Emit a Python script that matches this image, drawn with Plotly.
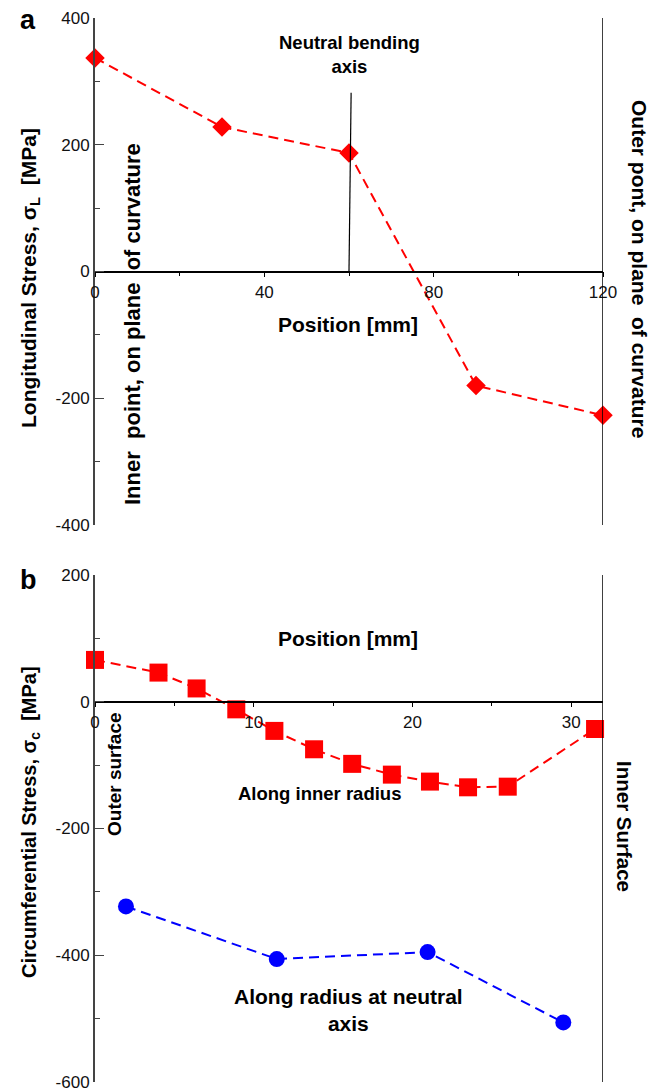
import plotly.graph_objects as go

# ---- data: panel a (longitudinal stress) ----
pos_a = [0, 30, 60, 90, 120]
stress_long = [337, 228, 187, -180, -227]
neutral_x = [60.5, 60]
neutral_y = [282, 0]
ytick_vals_a = [-400, -200, 0, 200, 400]
ytick_text_a = ["-400", "-200", "0", "200", "400"]
xtick_vals_a = [0, 40, 80, 120]
xtick_text_a = ["0", "40", "80", "120"]

# ---- data: panel b (circumferential stress) ----
pos_inner = [0, 4, 6.4, 8.9, 11.3, 13.8, 16.2, 18.7, 21.1, 23.5, 26.0, 31.5]
stress_inner = [66, 46, 21, -12, -46, -75, -98, -115, -126, -135, -134, -43]
pos_neutral = [1.95, 11.45, 20.95, 29.5]
stress_neutral = [-323, -406, -395, -506]
ytick_vals_b = [-600, -400, -200, 0, 200]
ytick_text_b = ["-600", "-400", "-200", "0", "200"]
xtick_vals_b = [0, 10, 20, 30]
xtick_text_b = ["0", "10", "20", "30"]

W, H = 661, 1089
FONT = "Liberation Sans, Arial, sans-serif"


def fx(px):
    return px / W


def fy(py):
    return 1 - py / H


xa_dom = [fx(95), fx(603)]
ya_dom = [fy(525), fy(18)]
yb_dom = [fy(1082), fy(575)]

fig = go.Figure()

fig.add_trace(go.Scatter(
    x=pos_a, y=stress_long, mode="lines+markers", xaxis="x", yaxis="y",
    line=dict(color="#ff0000", width=2, dash="10px,6px"),
    marker=dict(symbol="diamond", size=15, color="#ff0000"),
    cliponaxis=False, showlegend=False))
fig.add_trace(go.Scatter(
    x=neutral_x, y=neutral_y, mode="lines", xaxis="x", yaxis="y",
    line=dict(color="black", width=1.2), showlegend=False, cliponaxis=False))

fig.add_trace(go.Scatter(
    x=pos_inner, y=stress_inner, mode="lines+markers", xaxis="x2", yaxis="y2",
    line=dict(color="#ff0000", width=2, dash="10px,6px"),
    marker=dict(symbol="square", size=18, color="#ff0000"),
    cliponaxis=False, showlegend=False))
fig.add_trace(go.Scatter(
    x=pos_neutral, y=stress_neutral, mode="lines+markers", xaxis="x2", yaxis="y2",
    line=dict(color="#0000ff", width=2, dash="10px,6px"),
    marker=dict(symbol="circle", size=16, color="#0000ff"),
    cliponaxis=False, showlegend=False))

tickfont = dict(family=FONT, size=17, color="#111")

xa_common = dict(showgrid=False, zeroline=False, showline=True, linecolor="black",
                 linewidth=1.5, ticks="outside", ticklen=5, tickcolor="black",
                 tickwidth=1.2, tickfont=tickfont, anchor="free", automargin=False,
                 tickmode="array", ticklabeloverflow="allow")
ya_common = dict(showgrid=False, zeroline=False, showline=True, linecolor="#444",
                 linewidth=2, ticks="inside", ticklen=9, tickcolor="#444",
                 tickwidth=1.2, tickfont=tickfont, automargin=False,
                 tickmode="array", ticklabeloverflow="allow")

fig.update_layout(
    template="none",
    width=W, height=H, margin=dict(l=0, r=0, t=0, b=0, pad=0),
    paper_bgcolor="white", plot_bgcolor="white",
    xaxis=dict(domain=xa_dom, range=[0, 120], tickvals=xtick_vals_a,
               ticktext=xtick_text_a, position=fy(271.7),
               minor=dict(dtick=20, tick0=0, ticks="outside", ticklen=4, tickcolor="black"),
               **xa_common),
    yaxis=dict(domain=ya_dom, range=[-400, 400], tickvals=ytick_vals_a,
               ticktext=ytick_text_a, anchor="x",
               minor=dict(dtick=100, tick0=0, ticks="inside", ticklen=5, tickcolor="#444"),
               **ya_common),
    xaxis2=dict(domain=xa_dom, range=[0, 32], tickvals=xtick_vals_b,
                ticktext=xtick_text_b, position=fy(701.7),
                minor=dict(dtick=5, tick0=0, ticks="outside", ticklen=4, tickcolor="black"),
                **xa_common),
    yaxis2=dict(domain=yb_dom, range=[-600, 200], tickvals=ytick_vals_b,
                ticktext=ytick_text_b, anchor="x2",
                minor=dict(dtick=100, tick0=0, ticks="inside", ticklen=5, tickcolor="#444"),
                **ya_common),
)

# right-hand boundary lines
fig.add_shape(type="line", xref="x", yref="y", x0=120, x1=120, y0=-400, y1=400,
              line=dict(color="black", width=1.5))
fig.add_shape(type="line", xref="x2", yref="y2", x0=32, x1=32, y0=-600, y1=200,
              line=dict(color="black", width=1.5))


def ann(text, x, y, size, angle=0, bold=True):
    fig.add_annotation(
        text=f"<b>{text}</b>" if bold else text, xref="paper", yref="paper",
        x=fx(x), y=fy(y), xanchor="center", yanchor="middle", showarrow=False,
        textangle=angle, font=dict(family=FONT, size=size, color="black"))


nb = "\u00a0"
ann("a", 28, 20, 27)
ann("b", 28, 580, 27)
ann("Neutral bending<br>axis", 349, 54, 18.5)
ann("Position [mm]", 348, 325, 21)
ann("Position [mm]", 348, 638, 21)
ann(f"Longitudinal Stress, σ<sub>L</sub>{nb}{nb}[MPa]", 30, 278, 21, angle=-90)
ann(f"Inner{nb}{nb}point, on plane{nb}{nb}of curvature", 132, 324, 22, angle=-90)
ann(f"Outer pont, on plane{nb}{nb}of curvature", 640, 269, 21, angle=90)
ann(f"Circumferential Stress, σ<sub>c</sub>{nb}{nb}[MPa]", 30, 822, 20, angle=-90)
ann("Outer surface", 114, 774, 19, angle=-90)
ann("Along inner radius", 319, 793, 18.5)
ann("Inner Surface", 625, 826, 20.5, angle=90)
ann("Along radius at neutral<br>axis", 348, 1010, 21)

fig.write_html("out.html",
               config={"displayModeBar": False},
               post_script="document.body.style.margin='0';"
                           "document.body.style.overflow='hidden';")
